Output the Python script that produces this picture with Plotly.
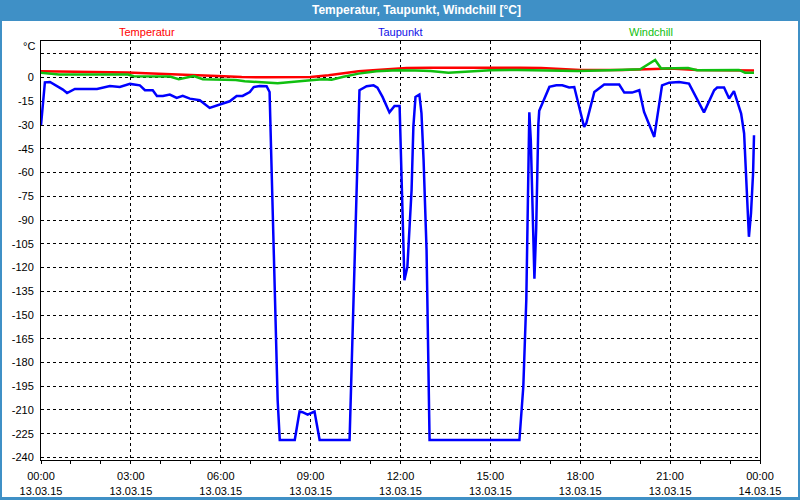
import plotly.graph_objects as go

# ---- data (hours since 13.03.15 00:00, values in °C) ----
temp_h = [0, 1.0, 2.0, 2.9, 3.5, 4.2, 5.0, 5.9, 6.7, 7.5, 8.3, 9.0, 9.6, 10.1, 10.6, 11.2,
          11.8, 12.2, 13.0, 14.0, 15.0, 16.0, 16.7, 17.3, 18.0, 19.4, 20.2, 21.0, 21.9, 22.8, 23.8]
temp_v = [4.0, 3.8, 3.5, 3.2, 2.8, 2.1, 1.6, 1.0, 0.3, 0.2, 0.2, 0.3, 1.4, 2.5, 4.0, 4.8,
          5.5, 6.0, 6.2, 6.3, 6.3, 6.2, 6.0, 5.4, 4.8, 4.8, 5.2, 5.7, 4.8, 4.6, 4.4]

wind_h = [0, 0.4, 0.6, 2.9, 3.1, 4.3, 4.6, 5.1, 5.4, 6.5, 6.8, 7.9, 8.5, 9.0, 9.4, 9.7, 10.1,
          10.6, 11.2, 11.9, 12.5, 13.0, 13.6, 14.2, 15.0, 15.9, 16.7, 17.9, 19.0, 20.0, 20.5,
          20.7, 21.6, 21.9, 23.3, 23.5, 23.8]
wind_v = [3.1, 2.6, 1.9, 1.9, 0.8, 0.6, -1.0, 1.0, -1.0, -1.6, -2.3, -3.6, -2.8, -1.7, -1.0, -1.3, 0.5,
          2.5, 4.0, 4.6, 4.4, 4.2, 3.1, 3.8, 4.6, 4.8, 4.4, 4.2, 4.6, 5.2, 11.1,
          5.7, 6.0, 4.6, 4.8, 3.1, 3.1]

dew_h = [0.0, 0.13, 0.3, 0.73, 0.87, 1.13, 1.87, 2.3, 2.63, 2.97, 3.3, 3.47, 3.73, 3.87, 4.07,
         4.3, 4.53, 4.73, 4.97, 5.3, 5.63, 5.87, 6.07, 6.3, 6.53, 6.73, 6.97, 7.1, 7.3, 7.53,
         7.63, 7.9, 7.97, 8.47, 8.63, 8.73, 8.9, 9.13, 9.3, 10.3, 10.63, 10.87, 11.1, 11.23,
         11.4, 11.63, 11.8, 11.97, 12.13, 12.23, 12.37, 12.43, 12.5, 12.63, 12.7, 12.77, 12.87,
         12.97, 15.97, 16.1, 16.2, 16.3, 16.35, 16.47, 16.53, 16.6, 16.63, 16.97, 17.2, 17.4,
         17.63, 17.8, 18.13, 18.2, 18.47, 18.8, 19.3, 19.47, 19.73, 19.97, 20.13, 20.47, 20.73,
         20.97, 21.3, 21.63, 22.13, 22.47, 22.57, 22.8, 22.97, 23.13, 23.23, 23.37, 23.47,
         23.53, 23.57, 23.63, 23.7, 23.77, 23.8]
dew_v = [-30, -3.0, -2.8, -7.6, -9.8, -7.2, -7.2, -5.4, -6.0, -4.0, -4.9, -8.0, -8.0, -11.6, -11.6,
         -10.7, -12.8, -11.6, -13.3, -14.3, -19.2, -17.5, -16.4, -15.0, -11.6, -11.6, -9.1, -6.0, -5.3, -5.5,
         -9.1, -204, -229, -229, -211, -211.4, -213, -211, -229, -229, -8.0, -5.5, -4.9, -6.3,
         -12.2, -22.0, -17.9, -17.9, -128, -119.5, -71, -31, -12.2, -10.7, -22.5, -52, -109,
         -229, -229, -195, -140, -22, -40, -127, -95, -30, -21, -5.9, -4.9, -4.9,
         -6.3, -6.0, -31.2, -29, -9.1, -4.4, -4.4, -9.5, -9.5, -8.0, -21.7, -37.5, -4.9,
         -3.2, -2.8, -3.8, -22, -8.0, -6.3, -6.3, -13.2, -8.6, -14.3, -22.7, -35.3,
         -60.6, -75, -100.6, -85.6, -60, -36.4]

x_tickvals = [0, 3, 6, 9, 12, 15, 18, 21, 24]
x_ticktext = ["00:00<br>13.03.15", "03:00<br>13.03.15", "06:00<br>13.03.15", "09:00<br>13.03.15",
              "12:00<br>13.03.15", "15:00<br>13.03.15", "18:00<br>13.03.15", "21:00<br>13.03.15",
              "00:00<br>14.03.15"]
y_tickvals = [15, 0, -15, -30, -45, -60, -75, -90, -105, -120, -135, -150, -165, -180,
              -195, -210, -225, -240]
y_ticktext = [""] + [str(v) for v in y_tickvals[1:]]

series_names = ["Temperatur", "Taupunkt", "Windchill"]
series_colors = ["#ff0000", "#0000ff", "#10c010"]
label_colors = ["#ff0000", "#1010e8", "#10c010"]

FONT = "Liberation Sans"

fig = go.Figure()
fig.add_trace(go.Scatter(x=temp_h, y=temp_v, mode="lines", name=series_names[0],
                         line=dict(color=series_colors[0], width=2.5)))
fig.add_trace(go.Scatter(x=dew_h, y=dew_v, mode="lines", name=series_names[1],
                         line=dict(color=series_colors[1], width=2.5)))
fig.add_trace(go.Scatter(x=wind_h, y=wind_v, mode="lines", name=series_names[2],
                         line=dict(color=series_colors[2], width=2.5)))

L, R, T, B = 41, 40, 41, 40
W, H = 800, 500
PW, PH = W - L - R, H - T - B


def px(xp):
    return (xp - L) / PW


def py(yp):
    return (H - B - yp) / PH


annotations = [
    dict(text="<b>Temperatur, Taupunkt, Windchill [°C]</b>", x=px(416), y=py(10),
         xref="paper", yref="paper", showarrow=False, xanchor="center", yanchor="middle",
         font=dict(family=FONT, size=12, color="white")),
    dict(text="°C", x=px(37), y=py(46), xref="paper", yref="paper", showarrow=False,
         xanchor="right", yanchor="middle", font=dict(family=FONT, size=11, color="black")),
]
for name, cx, col in zip(series_names, [147, 400, 651], label_colors):
    annotations.append(dict(text=name, x=px(cx), y=py(32), xref="paper", yref="paper",
                            showarrow=False, xanchor="center", yanchor="middle",
                            font=dict(family=FONT, size=11, color=col)))

fig.update_layout(
    width=W, height=H,
    margin=dict(l=L, r=R, t=T, b=B, autoexpand=False),
    paper_bgcolor="#3f90c6",
    plot_bgcolor="white",
    showlegend=False,
    font=dict(family=FONT, size=11, color="black"),
    annotations=annotations,
    shapes=[dict(type="rect", xref="paper", yref="paper", x0=px(2), x1=px(798),
                 y0=py(497), y1=py(21), fillcolor="white", line=dict(width=0), layer="below")],
    xaxis=dict(range=[0, 24], tickvals=x_tickvals, ticktext=x_ticktext,
               showgrid=True, gridcolor="black", gridwidth=1, griddash="3px,3px",
               showline=True, linecolor="black", linewidth=1, mirror=True,
               ticks="outside", ticklen=3, tickcolor="black", ticklabelstandoff=3,
               minor=dict(dtick=1, tick0=0, ticks="outside", ticklen=3, tickcolor="black",
                          showgrid=False),
               zeroline=False, tickfont=dict(family=FONT, size=11, color="black")),
    yaxis=dict(range=[-241.6, 23.1], tickvals=y_tickvals, ticktext=y_ticktext,
               showgrid=True, gridcolor="black", gridwidth=1, griddash="3px,3px",
               showline=True, linecolor="black", linewidth=1, mirror=True,
               ticks="", ticklabelstandoff=4,
               zeroline=False, tickfont=dict(family=FONT, size=11, color="black")),
)

fig.write_html("out.html", config={"displayModeBar": False},
               post_script="document.body.style.margin='0px';document.body.style.overflow='hidden';")
